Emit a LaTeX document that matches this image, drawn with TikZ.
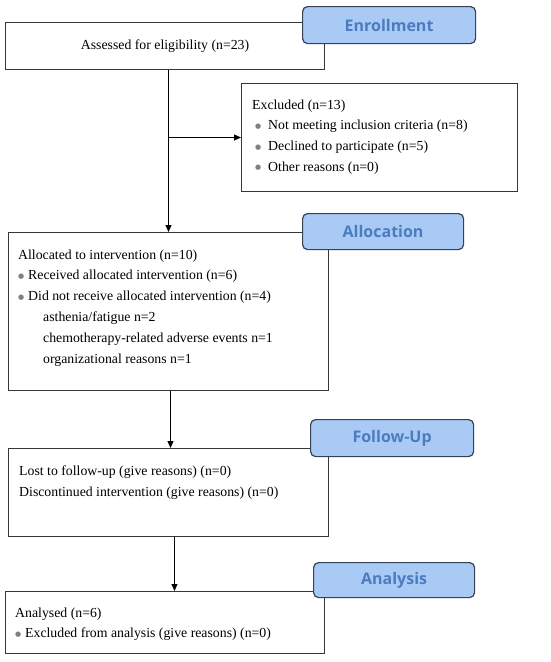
\documentclass[tikz,border=0pt]{standalone}
\usepackage{fontspec}
\setmainfont{Liberation Serif}
\newfontfamily\tabfont{Open Sans}
\newfontfamily\symfont{DejaVu Sans}
\usetikzlibrary{arrows.meta}
\definecolor{tabfill}{RGB}{170,202,246}
\definecolor{tabdraw}{RGB}{55,65,85}
\definecolor{tabtext}{RGB}{74,124,190}
\definecolor{boxdraw}{RGB}{55,55,55}
\newcommand{\bmark}[1]{\makebox[#1][l]{\raisebox{1.6pt}{\color{gray}\symfont\fontsize{7}{7}\selectfont ●}}}
\tikzset{
  box/.style={draw=boxdraw, line width=1pt, fill=white, anchor=north west, inner sep=0pt},
  phase/.style={draw=tabdraw, line width=1.2pt, fill=tabfill, rounded corners=5pt, anchor=north west, inner sep=0pt,
    font=\tabfont\bfseries\fontsize{16}{18}\selectfont, text=tabtext},
  txt/.style={anchor=north west, inner sep=0pt, align=left, font=\fontsize{13.8}{20.8}\selectfont},
  arr/.style={draw=black, line width=1pt, -{Triangle[length=7pt,width=6pt]}}
}
\begin{document}
\begin{tikzpicture}[x=1pt,y=-1pt]
\useasboundingbox (0,0) rectangle (550,662);
% boxes
\node[box, minimum width=319pt, minimum height=47pt, font=\fontsize{13.8}{16}\selectfont] (assess) at (5,22) {Assessed for eligibility (n=23)};
\node[box, minimum width=276pt, minimum height=108pt] (excl) at (241,83) {};
\node[box, minimum width=320pt, minimum height=158pt] (alloc) at (8,232) {};
\node[box, minimum width=320pt, minimum height=88pt] (follow) at (8,448) {};
\node[box, minimum width=319pt, minimum height=62pt] (anal) at (5,591) {};
% tabs
\node[phase, minimum width=173pt, minimum height=37pt] (t1) at (302,6) {Enrollment};
\node[phase, minimum width=161pt, minimum height=36pt] (t2) at (302,213) {Allocation};
\node[phase, minimum width=163pt, minimum height=37pt] (t3) at (310,419) {Follow-Up};
\node[phase, minimum width=161pt, minimum height=35pt] (t4) at (313,562) {Analysis};
% texts
\node[txt] (exclt) at (252,99.4) {Excluded (n=13)\\
\hspace*{3pt}\bmark{13pt}Not meeting inclusion criteria (n=8)\\
\hspace*{3pt}\bmark{13pt}Declined to participate (n=5)\\
\hspace*{3pt}\bmark{13pt}Other reasons (n=0)};
\node[txt] (alloct) at (18,249.4) {Allocated to intervention (n=10)\\
\bmark{10pt}Received allocated intervention (n=6)\\
\bmark{10pt}Did not receive allocated intervention (n=4)\\
\hspace*{25pt}asthenia/fatigue n=2\\
\hspace*{25pt}chemotherapy-related adverse events n=1\\
\hspace*{25pt}organizational reasons n=1};
\node[txt] (followt) at (19,465.4) {Lost to follow-up (give reasons) (n=0)\\
Discontinued intervention (give reasons) (n=0)};
\node[txt] (analt) at (15,607.4) {Analysed (n=6)\\
\bmark{10pt}Excluded from analysis (give reasons) (n=0)};
% connectors
\draw[arr] ([xshift=3.5pt]assess.south) -- ([xshift=3.5pt]assess.south |- alloc.north);
\draw[arr] ([xshift=3.5pt]assess.south |- excl.west) -- (excl.west);
\draw[arr] ([xshift=2pt]alloc.south) -- ([xshift=2pt]alloc.south |- follow.north);
\draw[arr] ([xshift=6pt]follow.south) -- ([xshift=6pt]follow.south |- anal.north);
\end{tikzpicture}
\end{document}
